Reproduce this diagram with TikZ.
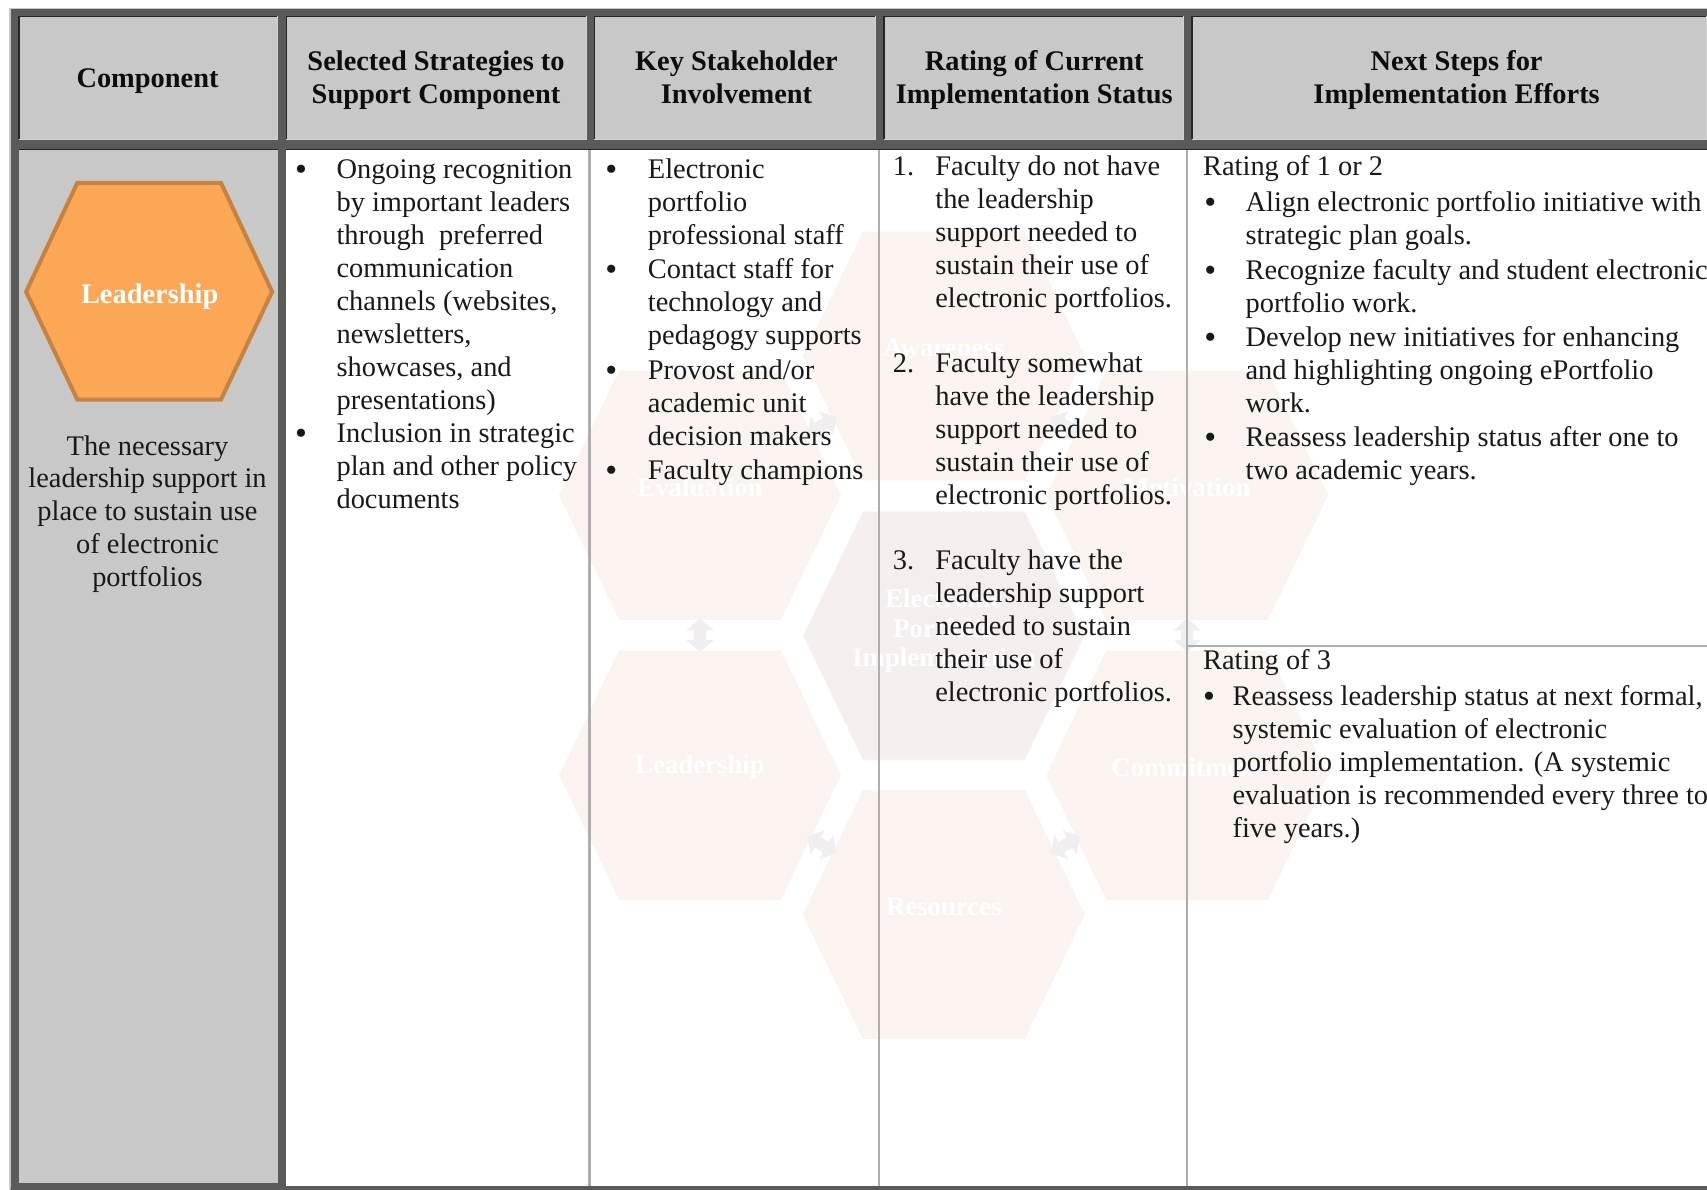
\documentclass[tikz,border=0pt]{standalone}
\usepackage{fontspec}
\setmainfont{Liberation Serif}
\usetikzlibrary{calc,arrows.meta}
\definecolor{frameg}{HTML}{5A5A5A}
\definecolor{cellg}{HTML}{C8C8C8}
\definecolor{sepg}{HTML}{AEAEAE}
\definecolor{wmfill}{HTML}{FAF3EF}
\definecolor{wmmid}{HTML}{F5EEEE}
\definecolor{wmline}{HTML}{F9F5EC}
\definecolor{wmarrow}{HTML}{F0EEEE}
\definecolor{orfill}{HTML}{FBA755}
\definecolor{orline}{HTML}{C58240}
\newcommand{\fs}{\fontsize{28.4}{33}\selectfont}
\newcommand{\st}{\rule{0pt}{20pt}}
\newcommand{\hexa}[6]{% name cx cy fill extra-node-options text
  \path[draw=wmline,line width=0.8pt,fill=#4] (#2-129,#3) -- (#2-74,#3-114) -- (#2+74,#3-114) -- (#2+129,#3) -- (#2+74,#3+114) -- (#2-74,#3+114) -- cycle;
  \coordinate (#1) at (#2,#3);
  \node[wmtext,#5] (#1t) at (#2,#3) {#6};}
\tikzset{
  cellbox/.style={fill=cellg},
  hdark/.style={draw=black!85,line width=1.2pt},
  hlight/.style={draw=gray!35,line width=1.2pt},
  sep/.style={draw=sepg,line width=2.2pt},
  head/.style={anchor=north,font=\fs\bfseries,align=center,inner sep=0pt,yshift=20pt,text=black!95},
  wmtext/.style={font=\fontsize{26.8}{29.5}\selectfont\bfseries,align=center,inner sep=0pt,text=white,yshift=8pt},
  body/.style={anchor=north west,inner sep=0pt,align=left,font=\fs,yshift=20pt,text=black!90},
  bul/.style={anchor=north west,inner sep=0pt,font=\fontsize{34}{34}\selectfont,yshift=18pt,text=black!90},
  ctr/.style={anchor=north,inner sep=0pt,align=center,font=\fontsize{28.4}{32.7}\selectfont,yshift=20pt,text=black!90},
  bidir/.style={draw=wmarrow,line width=12pt,{Triangle[width=27pt,length=12pt]}-{Triangle[width=27pt,length=12pt]}},
}
\begin{document}
\begin{tikzpicture}[x=1.0887pt,y=-1.0887pt]
\useasboundingbox (0,0) rectangle (1568,1093);
\fill[white] (0,0) rectangle (1568,1093);
% frame
\fill[frameg] (9,8) rectangle (1568,1093);
\draw[gray!45,line width=1.5pt] (9,1092.5) |- (1568,8);
% body cells
\fill[cellbox] (17.5,137) rectangle (255,1087);
\fill[white] (263,137) rectangle (1568,1089);
\draw[hdark] (17.5,137) -- (255,137);
\draw[hdark] (263,137) -- (1568,137);
% header cells
\foreach \a/\b in {17.5/255,263/539,546/804,812/1087,1095/1568}{
  \fill[cellbox] (\a,15) rectangle (\b,128);
  \draw[hdark] (\a,128) |- (\b,15);
  \draw[hlight] (\a,128) -- (\b,128) -- (\b,15);
}
% watermark
\hexa{aw}{867}{327}{wmfill}{}{Awareness}
\hexa{ev}{643}{455}{wmfill}{}{Evaluation}
\hexa{mo}{1090.5}{455}{wmfill}{}{Motivation}
\hexa{ep}{867}{584}{wmmid}{yshift=-3pt}{Electronic\\Portfolio\\Implementation}
\hexa{le}{643}{712}{wmfill}{}{Leadership}
\hexa{co}{1090.5}{712}{wmfill}{}{Commitment}
\hexa{re}{867}{840}{wmfill}{}{Resources}
\foreach \p/\q in {ev/le,mo/co,aw/ev,aw/mo,le/re,co/re}{
  \draw[bidir] ($(\p)!0.44!(\q)$) -- ($(\p)!0.56!(\q)$);
}
% separators
\coordinate (s1t) at (541.5,138); \coordinate (s1b) at (541.5,1089);
\coordinate (s2t) at (807.5,138); \coordinate (s2b) at (807.5,1089);
\coordinate (s3t) at (1090.5,138); \coordinate (s3b) at (1090.5,1089);
\coordinate (h1) at (1090.5,593.5); \coordinate (h2) at (1568,593.5);
\draw[sep] (s1t) -- (s1b);
\draw[sep] (s2t) -- (s2b);
\draw[sep] (s3t) -- (s3b);
\draw[sep] (h1) -- (h2);
% headers
\node[head] (hc) at (135.5,80) {\st Component};
\node[head] (hs) at (400.5,65) {\st Selected Strategies to\\Support Component};
\node[head] (hk) at (676.5,65) {\st Key Stakeholder\\Involvement};
\node[head] (hr) at (950,65) {\st Rating of Current\\Implementation Status};
\node[head] (hn) at (1338,65) {\st Next Steps for\\Implementation Efforts};
% component hexagon
\path[draw=orline,line width=4pt,fill=orfill] (24,268) -- (71,168) -- (203,168) -- (250,268) -- (203,367) -- (71,367) -- cycle;
\node[font=\fs\bfseries,text=white,inner sep=0pt] (lead) at (137.5,272.5) {Leadership};
\node[ctr] (desc) at (135.5,418) {\st The necessary\\leadership support in\\place to sustain use\\of electronic\\portfolios};
% column 2
\node[bul] (c2b1) at (271,163.5) {\st •};
\node[body] (c2a) at (309,163.5) {\st Ongoing recognition\\by important leaders\\through\ \ preferred\\communication\\channels (websites,\\newsletters,\\showcases, and\\presentations)};
\node[bul] (c2b2) at (271,406.5) {\st •};
\node[body] (c2c) at (309,406.5) {\st Inclusion in strategic\\plan and other policy\\documents};
% column 3
\node[bul] (c3b1) at (556,163.5) {\st •};
\node[body] (c3a) at (595,163.5) {\st Electronic\\portfolio\\professional staff};
\node[bul] (c3b2) at (556,256) {\st •};
\node[body] (c3c) at (595,256) {\st Contact staff for\\technology and\\pedagogy supports};
\node[bul] (c3b3) at (556,348) {\st •};
\node[body] (c3d) at (595,348) {\st Provost and/or\\academic unit\\decision makers};
\node[bul] (c3b4) at (556,440) {\st •};
\node[body] (c3e) at (595,440) {\st Faculty champions};
% column 4
\node[body] (c4n1) at (820,161) {\st 1.};
\node[body] (c4a) at (859,161) {\st Faculty do not have\\the leadership\\support needed to\\sustain their use of\\electronic portfolios.};
\node[body] (c4n2) at (820,342) {\st 2.};
\node[body] (c4b) at (859,342) {\st Faculty somewhat\\have the leadership\\support needed to\\sustain their use of\\electronic portfolios.};
\node[body] (c4n3) at (820,523) {\st 3.};
\node[body] (c4c) at (859,523) {\st Faculty have the\\leadership support\\needed to sustain\\their use of\\electronic portfolios.};
% column 5
\node[body] (c5r1) at (1105,161) {\st Rating of 1 or 2};
\node[bul] (c5b1) at (1106,194) {\st •};
\node[body] (c5a) at (1144,194) {\st Align electronic portfolio initiative with\\strategic plan goals.};
\node[bul] (c5b2) at (1106,256.5) {\st •};
\node[body] (c5c) at (1144,256.5) {\st Recognize faculty and student electronic\\portfolio work.};
\node[bul] (c5b3) at (1106,318) {\st •};
\node[body] (c5d) at (1144,318) {\st Develop new initiatives for enhancing\\and highlighting ongoing ePortfolio\\work.};
\node[bul] (c5b4) at (1106,410) {\st •};
\node[body] (c5e) at (1144,410) {\st Reassess leadership status after one to\\two academic years.};
\node[body] (c5r3) at (1105,615) {\st Rating of 3};
\node[bul] (c5b5) at (1105,647.5) {\st •};
\node[body] (c5f) at (1132,647.5) {\st Reassess leadership status at next formal,\\systemic evaluation of electronic\\portfolio implementation. (A systemic\\evaluation is recommended every three to\\five years.)};
\end{tikzpicture}
\end{document}
